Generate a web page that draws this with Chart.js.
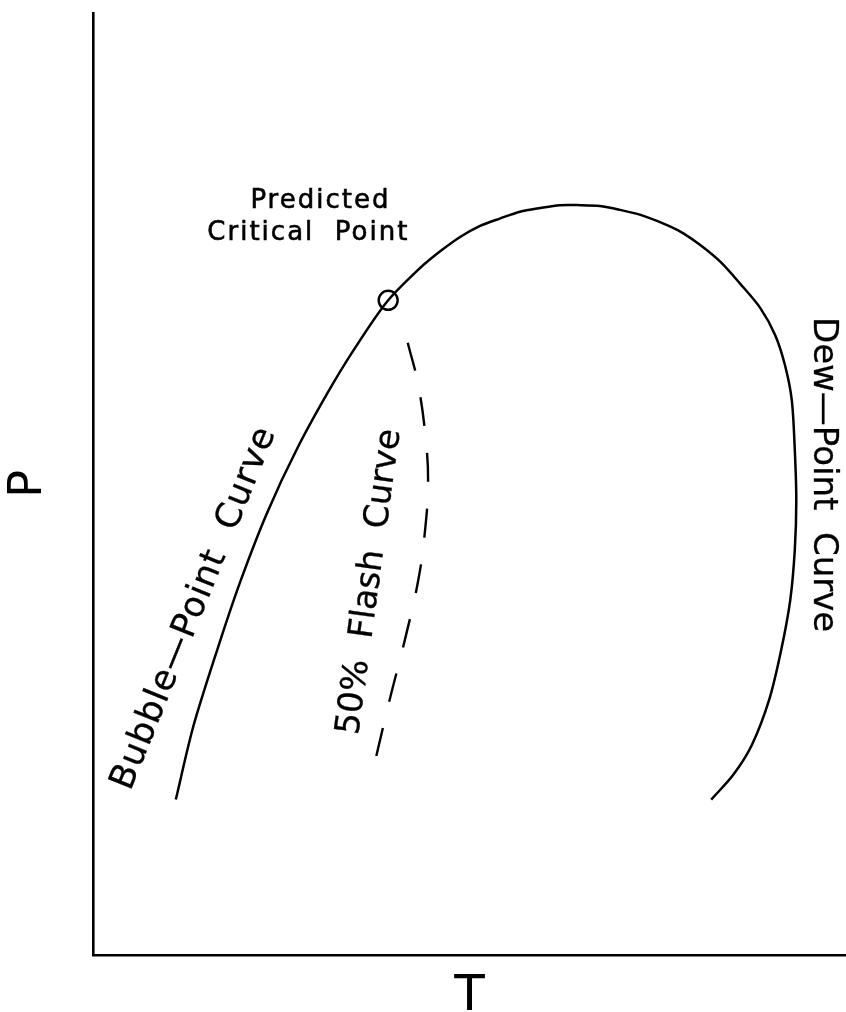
<!DOCTYPE html>
<html>
<head>
<meta charset="utf-8">
<title>Phase envelope: P vs T</title>
<script src="https://cdn.jsdelivr.net/npm/chart.js@4/dist/chart.umd.min.js"></script>
<style>
  html, body { margin: 0; padding: 0; background: #fff; }
  #wrap { width: 846px; height: 1012px; }
</style>
</head>
<body>
<div id="wrap"><canvas id="c" width="846" height="1012"></canvas></div>
<script>
// Phase envelope in arbitrary units: bubble-point branch, over the top, down the dew-point branch
const envelopeT = [11.0, 13.3, 16.5, 19.5, 23.1, 27.2, 31.9, 35.5, 39.2, 43.4, 46.1, 48.7, 51.4, 54.1, 56.7, 59.4, 62.0, 64.7, 67.3, 70.0, 72.6, 75.3, 78.0, 80.6, 83.3, 85.9, 88.6, 90.6, 91.9, 92.8, 93.2, 93.4, 93.2, 92.6, 91.4, 89.8, 87.5, 85.0, 82.1];
const envelopeP = [16.5, 24.2, 32.4, 39.5, 46.9, 53.9, 60.7, 65.3, 69.5, 72.9, 74.7, 76.2, 77.4, 78.2, 78.9, 79.3, 79.6, 79.6, 79.5, 79.1, 78.6, 77.8, 76.8, 75.4, 73.6, 71.3, 68.7, 65.8, 62.6, 58.9, 53.6, 48.3, 43.0, 37.7, 32.4, 27.1, 22.3, 19.1, 16.5];

// 50 % flash curve
const flashT = [41.8, 43.2, 44.2, 44.5, 44.1, 43.2, 41.4, 39.4, 37.5];
const flashP = [65.0, 60.5, 54.7, 50.1, 45.1, 39.8, 33.4, 27.1, 20.7];

// Predicted critical point
const criticalT = [39.2];
const criticalP = [69.5];

// Axis titles
const xTitle = 'T';
const yTitle = 'P';

const toPoints = (xs, ys) => xs.map((v, i) => ({ x: v, y: ys[i] }));

// Text placed on the plot (anchor in axis units, angle in degrees)
const curveLabels = [
  { text: 'Predicted',                at: [30.2, 79.3], angle: 0,     size: 26, spacing: 2, stroke: 0.6, baseline: 'alphabetic' },
  { text: 'Critical  Point',          at: [28.6, 75.9], angle: 0,     size: 26, spacing: 2, stroke: 0.6, baseline: 'alphabetic' },
  { text: 'Bubble\u2014Point  Curve', at: [13.5, 36.8], angle: -68,   size: 35, spacing: 1, stroke: 0.3, baseline: 'middle' },
  { text: '50%  Flash  Curve',        at: [36.8, 39.6], angle: -82.2, size: 34, spacing: 0, stroke: 0.3, baseline: 'middle' },
  { text: 'Dew\u2014Point  Curve',    at: [96.9, 51.0], angle: 90,    size: 34, spacing: 0, stroke: 0.3, baseline: 'middle' }
];

const curveLabelPlugin = {
  id: 'curveLabels',
  afterDatasetsDraw(chart) {
    const { ctx, scales: { x, y } } = chart;
    for (const l of curveLabels) {
      ctx.save();
      ctx.translate(x.getPixelForValue(l.at[0]), y.getPixelForValue(l.at[1]));
      ctx.rotate(l.angle * Math.PI / 180);
      ctx.font = l.size + 'px "DejaVu Sans"';
      ctx.letterSpacing = l.spacing + 'px';
      ctx.fillStyle = '#000';
      ctx.strokeStyle = '#000';
      ctx.lineWidth = l.stroke;
      ctx.textAlign = 'center';
      ctx.textBaseline = l.baseline;
      ctx.fillText(l.text, 0, 0);
      ctx.strokeText(l.text, 0, 0);
      ctx.restore();
    }
  }
};

new Chart(document.getElementById('c'), {
  type: 'scatter',
  data: {
    datasets: [
      {
        label: 'Phase envelope',
        data: toPoints(envelopeT, envelopeP),
        showLine: true,
        tension: 0.3,
        borderColor: '#000',
        borderWidth: 2.5,
        pointRadius: 0,
        fill: false
      },
      {
        label: '50% flash',
        data: toPoints(flashT, flashP),
        showLine: true,
        tension: 0.4,
        borderColor: '#000',
        borderWidth: 2.4,
        borderDash: [29, 27],
        pointRadius: 0,
        fill: false
      },
      {
        label: 'Critical point',
        data: toPoints(criticalT, criticalP),
        showLine: false,
        pointStyle: 'circle',
        pointRadius: 9.5,
        pointBorderWidth: 2.4,
        pointBorderColor: '#000',
        pointBackgroundColor: 'rgba(0,0,0,0)'
      }
    ]
  },
  options: {
    responsive: false,
    animation: false,
    devicePixelRatio: 1,
    layout: { autoPadding: false, padding: { top: 13, right: 0, bottom: 0, left: 0 } },
    plugins: {
      legend: { display: false },
      tooltip: { enabled: false }
    },
    scales: {
      x: {
        type: 'linear',
        min: 0,
        max: 100,
        grid: { display: false, drawTicks: false },
        border: { display: true, color: '#000', width: 2.6 },
        ticks: { display: false },
        title: {
          display: true,
          text: xTitle,
          color: '#000',
          font: { family: 'DejaVu Sans', size: 50, lineHeight: 0.6 },
          padding: { top: 27, bottom: 0 }
        }
      },
      y: {
        type: 'linear',
        min: 0,
        max: 100,
        grid: { display: false, drawTicks: false },
        border: { display: true, color: '#000', width: 2.6 },
        ticks: { display: false },
        title: {
          display: true,
          text: yTitle,
          color: '#000',
          font: { family: 'DejaVu Sans', size: 46, lineHeight: 1 },
          padding: { top: 6, bottom: 41 }
        }
      }
    }
  },
  plugins: [curveLabelPlugin]
});
</script>
</body>
</html>
